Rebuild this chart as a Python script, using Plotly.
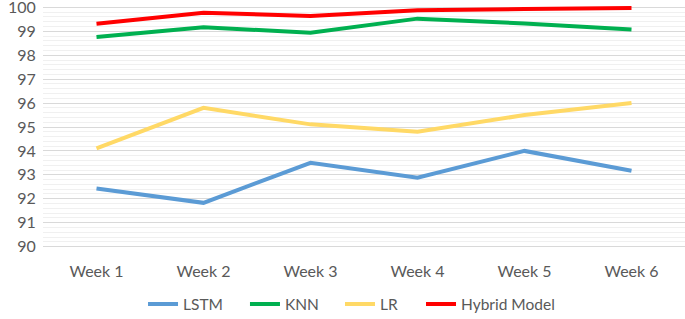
import plotly.graph_objects as go

weeks = ["Week 1", "Week 2", "Week 3", "Week 4", "Week 5", "Week 6"]
lstm = [92.43, 91.83, 93.5, 92.88, 94.0, 93.17]
knn = [98.76, 99.17, 98.94, 99.53, 99.33, 99.08]
lr = [94.11, 95.8, 95.11, 94.8, 95.5, 96.0]
hybrid = [99.32, 99.78, 99.64, 99.88, 99.93, 99.97]
y_ticks = [90, 91, 92, 93, 94, 95, 96, 97, 98, 99, 100]

series = [("LSTM", lstm, "#5B9BD5"), ("KNN", knn, "#00B050"),
          ("LR", lr, "#FFD966"), ("Hybrid Model", hybrid, "#FF0000")]
legend_ids = ["legend", "legend2", "legend3", "legend4"]
legend_x = [0.1558, 0.3146, 0.4626, 0.5888]

fig = go.Figure()
for (name, vals, col), lid in zip(series, legend_ids):
    fig.add_trace(go.Scatter(x=weeks, y=vals, name=name, mode="lines",
                             line=dict(color=col, width=4), cliponaxis=False,
                             legend=lid))

leg_common = dict(orientation="h", xanchor="left", y=-0.227, yanchor="middle",
                  font=dict(size=15.5, color="#595959"), bgcolor="rgba(0,0,0,0)",
                  borderwidth=0)
layout_legends = {lid: dict(x=lx, **leg_common) for lid, lx in zip(legend_ids, legend_x)}

fig.update_layout(
    width=685, height=319,
    margin=dict(l=43, r=0, t=4.6, b=69.6, autoexpand=False),
    paper_bgcolor="white", plot_bgcolor="white",
    font=dict(family="Lato, Liberation Sans, sans-serif", size=16, color="#595959"),
    showlegend=True,
    **layout_legends,
)
fig.update_xaxes(type="category", range=[-0.5, 5.5], showgrid=False, showline=False,
                 zeroline=False, ticks="outside", ticklen=8, tickcolor="rgba(0,0,0,0)",
                 tickfont=dict(size=16, color="#595959"), automargin=False)
fig.update_yaxes(range=[89.9, 100.1], tickmode="array", tickvals=y_ticks,
                 ticktext=[str(v) for v in y_ticks], showgrid=True, gridcolor="#D9D9D9",
                 gridwidth=1, zeroline=False, showline=False, automargin=False,
                 ticklabeloverflow="allow",
                 ticks="outside", ticklen=3, tickcolor="rgba(0,0,0,0)",
                 tickfont=dict(size=16, color="#595959"),
                 minor=dict(tickmode="linear", tick0=90, dtick=0.2, showgrid=True,
                            gridcolor="#F0F0F0", gridwidth=1))
fig.write_html("out.html", config={"displayModeBar": False},
               post_script="document.body.style.margin='0';")
